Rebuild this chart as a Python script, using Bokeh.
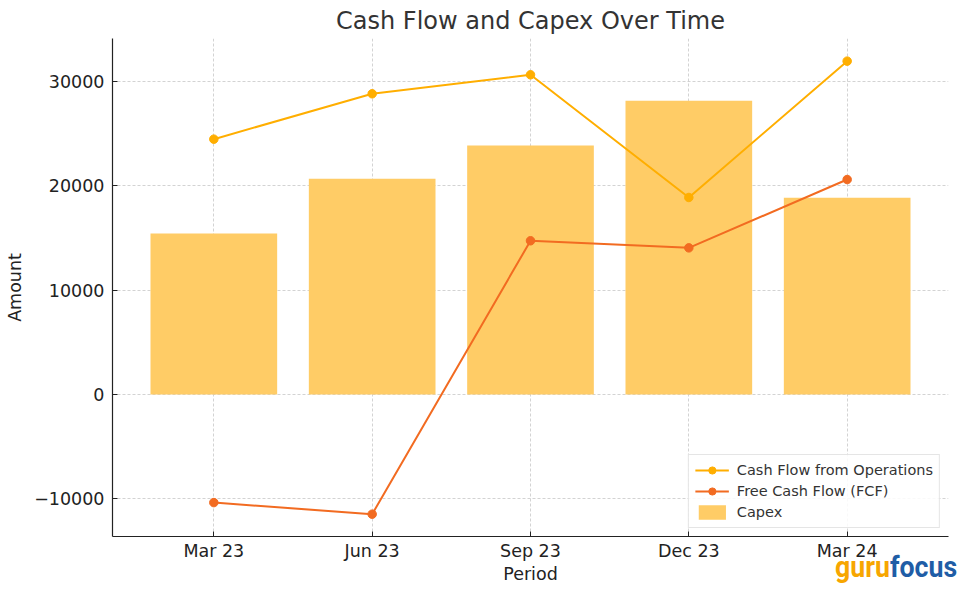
from bokeh.plotting import figure
from bokeh.models import FactorRange, Range1d, Legend, LegendItem, Div, SingleIntervalTicker
from bokeh.layouts import column
from bokeh.embed import file_html
from bokeh.resources import INLINE

periods = ["Mar 23", "Jun 23", "Sep 23", "Dec 23", "Mar 24"]
cash_flow_ops = [24480, 28830, 30650, 18890, 31960]
free_cash_flow = [-10360, -11470, 14740, 14060, 20610]
capex = [15440, 20680, 23870, 28160, 18860]
logo_parts = ["guru", "focus"]

FONT = "DejaVu Sans"
C_CFO = "#FFAE00"
C_FCF = "#F26B21"
C_CAPEX = "#FFCC66"

p = figure(
    width=959, height=594,
    x_range=FactorRange(factors=periods, range_padding=0.056, range_padding_units="percent"),
    y_range=Range1d(-13610, 34130),
    output_backend="svg", toolbar_location=None,
    min_border_left=112, min_border_right=11, min_border_top=38, min_border_bottom=58,
    title="Cash Flow and Capex Over Time",
)
p.outline_line_color = None
p.background_fill_color = "white"

p.title.align = "center"
p.title.text_font = FONT
p.title.text_font_size = "24px"
p.title.text_font_style = "normal"
p.title.text_color = "#333333"
p.title.standoff = 7

bars = p.vbar(x=periods, top=capex, width=0.8, fill_color=C_CAPEX, fill_alpha=1.0, line_color=None)
l1 = p.line(x=periods, y=cash_flow_ops, line_color=C_CFO, line_width=2)
s1 = p.scatter(x=periods, y=cash_flow_ops, size=8.5, fill_color=C_CFO, line_color=C_CFO)
l2 = p.line(x=periods, y=free_cash_flow, line_color=C_FCF, line_width=2)
s2 = p.scatter(x=periods, y=free_cash_flow, size=8.5, fill_color=C_FCF, line_color=C_FCF)

p.yaxis.ticker = SingleIntervalTicker(interval=10000)
for ax in (p.xaxis[0], p.yaxis[0]):
    ax.axis_line_color = "#222222"
    ax.axis_line_width = 1.2
    ax.major_tick_in = 5
    ax.major_tick_out = 0
    ax.major_tick_line_color = "#222222"
    ax.minor_tick_line_color = None
    ax.major_label_text_font = FONT
    ax.major_label_text_font_size = "17.5px"
    ax.major_label_text_color = "#222222"
    ax.axis_label_text_font = FONT
    ax.axis_label_text_font_size = "17.5px"
    ax.axis_label_text_font_style = "normal"
    ax.axis_label_text_color = "#222222"
p.xaxis.axis_label = "Period"
p.yaxis.axis_label = "Amount"
p.xaxis.major_label_standoff = 4
p.yaxis.major_label_standoff = 4
p.yaxis.axis_label_standoff = 6
p.xaxis.axis_label_standoff = 0
p.yaxis.formatter.use_scientific = False

for g in (p.xgrid[0], p.ygrid[0]):
    g.grid_line_color = "#c8c8c8"
    g.grid_line_dash = "3 2"
    g.grid_line_width = 0.8

legend = Legend(
    items=[
        LegendItem(label="Cash Flow from Operations", renderers=[l1, s1]),
        LegendItem(label="Free Cash Flow (FCF)", renderers=[l2, s2]),
        LegendItem(label="Capex", renderers=[bars]),
    ],
    location="bottom_right",
    margin=8,
    padding=6,
    spacing=3,
    glyph_width=34,
    glyph_height=18,
    label_text_font=FONT,
    label_text_font_size="14.5px",
    label_text_color="#333333",
    label_standoff=8,
    border_line_color="#cccccc",
    border_line_width=1,
    background_fill_alpha=0.85,
)
p.add_layout(legend, "center")

logo_html = (
    '<div style="white-space:nowrap;font-family:Roboto,sans-serif;font-weight:bold;'
    'font-size:30px;line-height:30px;transform:scaleX(0.89);transform-origin:0 0;">'
    f'<span style="color:#F7A600">{logo_parts[0]}</span>'
    f'<span style="color:#1F5DA6">{logo_parts[1]}</span></div>'
)
logo = Div(text=logo_html, width=123, height=30, margin=(-42, 0, 0, 835),
           styles={"position": "relative", "z-index": "10", "overflow": "visible"})

layout = column(p, logo, spacing=0)

open("out.html", "w").write(file_html(layout, INLINE))
